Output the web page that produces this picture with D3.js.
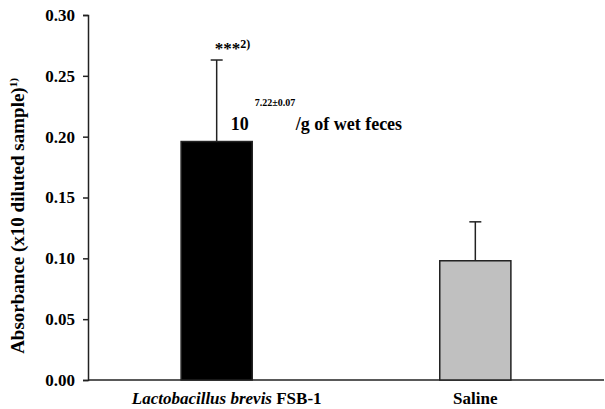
<!DOCTYPE html>
<html lang="en">
<head>
    <meta charset="UTF-8">
    <title>Absorbance</title>
    <script src="https://cdn.jsdelivr.net/npm/d3@7"></script>
    <style>
        body { margin: 0; background: #fff; }
        svg text { font-family: "Times New Roman", "Liberation Serif", Tinos, "DejaVu Serif", serif !important; font-weight: bold; fill: #000; }
    </style>
</head>
<body>
<script>
    const groups = ['Lactobacillus brevis FSB-1', 'Saline']
    const means = [0.196, 0.098]
    const errors = [0.067, 0.032]
    const fills = ['#000000', '#c0c0c0']
    const yTicks = [0, 0.05, 0.1, 0.15, 0.2, 0.25, 0.3]

    const [width, height] = [605, 409]
    const margin = {top: 15, right: 1, bottom: 29, left: 88}
    const svg = d3.select('body').append('svg').attr('width', width).attr('height', height)

    const x = d3.scaleBand().domain(groups).range([margin.left, width - margin.right])
        .paddingInner(0.725).paddingOuter(0.36)
    const y = d3.scaleLinear().domain([0, 0.3]).range([height - margin.bottom, margin.top])

    // y axis
    const yAxis = d3.axisLeft(y).tickValues(yTicks).tickFormat(d3.format('.2f')).tickSize(5).tickPadding(8)
    const gy = svg.append('g').attr('transform', `translate(${margin.left},0)`).call(yAxis)
    gy.attr('font-family', null)
    gy.select('.domain').attr('stroke', '#222').attr('stroke-width', 1.5)
    gy.selectAll('.tick line').attr('stroke', '#222').attr('stroke-width', 1.5)
    gy.selectAll('.tick text').style('font-size', '17px')

    // x axis line
    svg.append('line')
        .attr('x1', margin.left).attr('x2', width - margin.right)
        .attr('y1', y(0)).attr('y2', y(0))
        .attr('stroke', '#222').attr('stroke-width', 1.5)

    // bars
    svg.selectAll('rect.bar').data(groups).join('rect').attr('class', 'bar')
        .attr('x', d => x(d))
        .attr('width', x.bandwidth())
        .attr('y', (d, i) => y(means[i]))
        .attr('height', (d, i) => y(0) - y(means[i]))
        .attr('fill', (d, i) => fills[i])
        .attr('stroke', '#222').attr('stroke-width', 1.5)

    // error bars (upper only)
    const err = svg.selectAll('g.err').data(groups).join('g').attr('class', 'err')
    err.append('line')
        .attr('x1', d => x(d) + x.bandwidth() / 2).attr('x2', d => x(d) + x.bandwidth() / 2)
        .attr('y1', (d, i) => y(means[i])).attr('y2', (d, i) => y(means[i] + errors[i]))
        .attr('stroke', '#222').attr('stroke-width', 1.5)
    err.append('line')
        .attr('x1', d => x(d) + x.bandwidth() / 2 - 6).attr('x2', d => x(d) + x.bandwidth() / 2 + 6)
        .attr('y1', (d, i) => y(means[i] + errors[i])).attr('y2', (d, i) => y(means[i] + errors[i]))
        .attr('stroke', '#222').attr('stroke-width', 1.5)

    // x labels
    const xl = svg.append('g')
    const l1 = xl.append('text').attr('x', x(groups[0]) + x.bandwidth() / 2 + 10).attr('y', 404)
        .attr('text-anchor', 'middle').style('font-size', '17px')
    l1.append('tspan').style('font-style', 'italic').text('Lactobacillus brevis')
    l1.append('tspan').text(' FSB-1')
    xl.append('text').attr('x', x(groups[1]) + x.bandwidth() / 2).attr('y', 404)
        .attr('text-anchor', 'middle').style('font-size', '17px').text('Saline')

    // y title
    const yt = svg.append('text')
        .attr('transform', `translate(24,216) rotate(-90)`)
        .attr('text-anchor', 'middle').style('font-size', '19px')
    yt.append('tspan').text('Absorbance (x10 diluted sample)')
    yt.append('tspan').attr('dy', -7).style('font-size', '11px').text('1)')

    // significance annotation
    const cx = x(groups[0]) + x.bandwidth() / 2
    const topY = y(means[0] + errors[0])
    const sig = svg.append('text').attr('x', cx - 2).attr('y', topY - 6).style('font-size', '17px')
    sig.append('tspan').text('***')
    sig.append('tspan').attr('dy', -6).style('font-size', '12px').text('2)')

    // count annotation
    const cnt = svg.append('g')
    cnt.append('text').attr('x', cx + 14).attr('y', 130).style('font-size', '18px').text('10')
    cnt.append('text').attr('x', cx + 38).attr('y', 106).style('font-size', '10px').text('7.22±0.07')
    cnt.append('text').attr('x', cx + 79).attr('y', 130).style('font-size', '18px').text('/g of wet feces')
</script>
</body>
</html>
